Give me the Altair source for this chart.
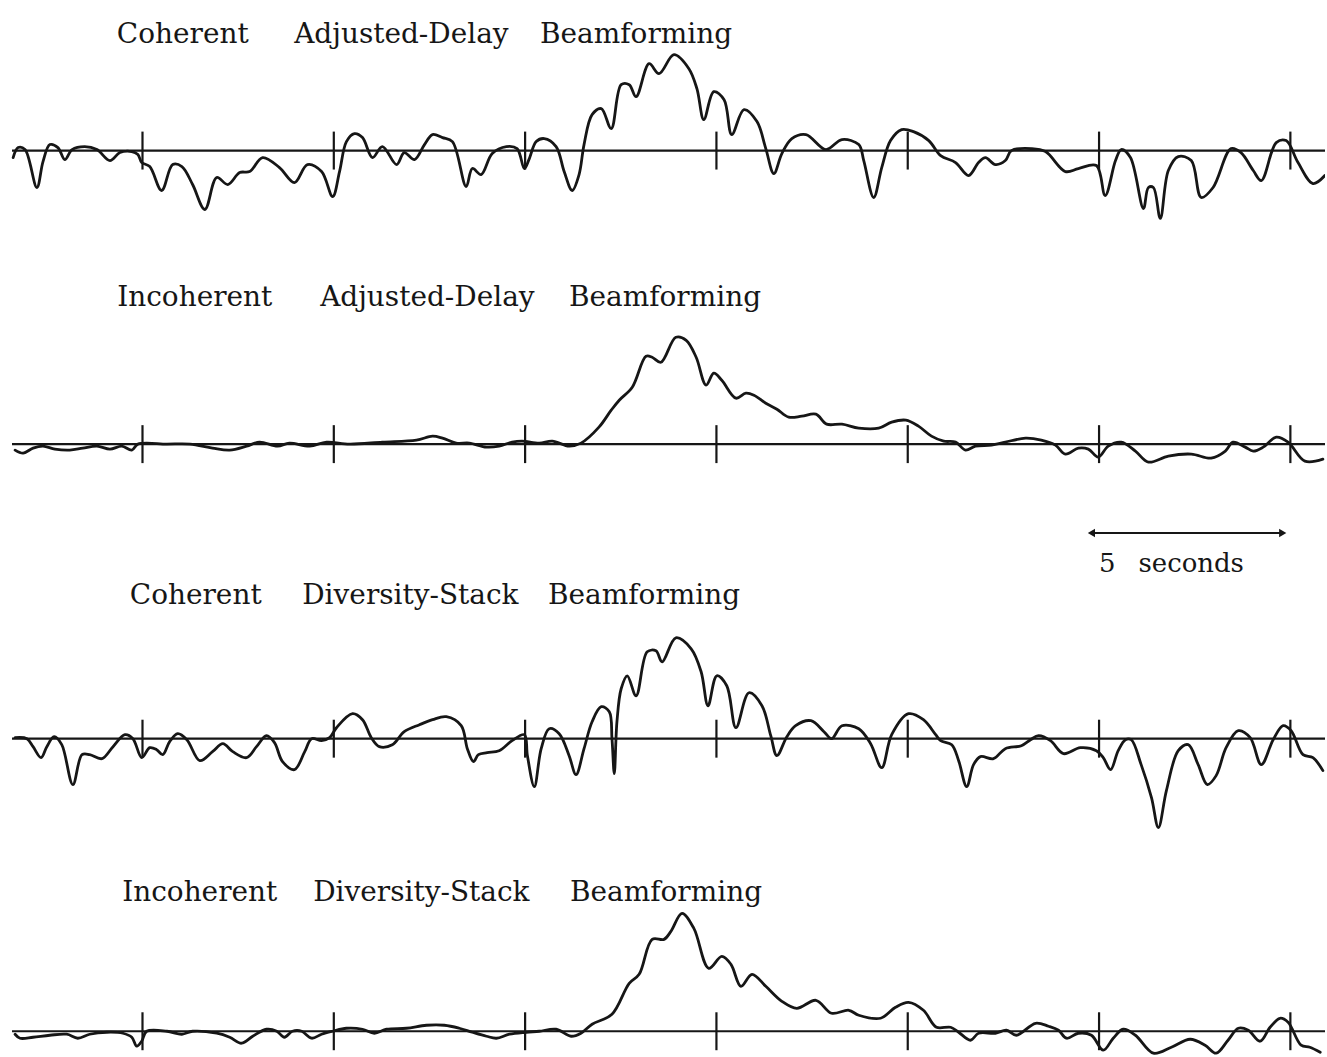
import altair as alt
import pandas as pd

INK = "#161616"
SERIF = "DejaVu Serif"

# Time axis in seconds, amplitude in relative units (positive up)
T_MIN, T_MAX = 1.276, 35.905
TRACE_START = 1.59
TIME_MARKS = [5, 10, 15, 20, 25, 30, 35]
TICK_HALF = 19

titles = [
    "Coherent Adjusted-Delay Beamforming",
    "Incoherent Adjusted-Delay Beamforming",
    "Coherent Diversity-Stack Beamforming",
    "Incoherent Diversity-Stack Beamforming",
]

# Coherent adjusted-delay beam
t1 = [1.62, 1.75, 1.93, 2.24, 2.40, 2.58, 2.79, 2.97, 3.16, 3.49,
      3.81, 4.15, 4.41, 4.72, 4.88, 4.98, 5.19, 5.50, 5.79, 6.03,
      6.31, 6.63, 6.94, 7.23, 7.54, 7.80, 8.14, 8.58, 8.97, 9.31,
      9.68, 9.97, 10.15, 10.33, 10.54, 10.75, 11.01, 11.27, 11.64, 11.84,
      12.11, 12.37, 12.58, 12.84, 13.10, 13.46, 13.62, 13.85, 14.14, 14.51,
      14.79, 14.98, 15.11, 15.29, 15.50, 15.81, 16.02, 16.23, 16.41, 16.54,
      16.75, 16.99, 17.25, 17.51, 17.72, 17.90, 18.24, 18.50, 18.89, 19.28,
      19.49, 19.67, 19.93, 20.20, 20.40, 20.72, 21.06, 21.29, 21.50, 21.71,
      21.97, 22.34, 22.86, 23.28, 23.72, 23.85, 24.11, 24.32, 24.55, 24.84,
      25.15, 25.55, 25.86, 26.25, 26.59, 26.85, 27.03, 27.29, 27.55, 27.71,
      28.23, 28.60, 29.12, 29.46, 29.93, 30.16, 30.43, 30.58, 30.82, 31.16,
      31.29, 31.42, 31.60, 31.81, 32.07, 32.41, 32.67, 32.98, 33.45, 33.71,
      34.03, 34.24, 34.63, 34.89, 35.20, 35.59, 35.90]
a1 = [-7, 3, 1, -37, -11, 6, 3, -9, 1, 4,
      1, -10, -2, -1, -4, -12, -16, -40, -14, -16,
      -34, -59, -27, -34, -22, -21, -7, -17, -32, -14,
      -21, -46, -21, 9, 17, 13, -7, 4, -14, -2,
      -9, 6, 16, 13, 9, -36, -18, -24, -3, 4,
      2, -18, -8, 9, 12, 4, -21, -40, -24, 6,
      36, 42, 22, 66, 66, 54, 87, 77, 96, 82,
      62, 31, 59, 51, 16, 41, 29, 2, -23, -3,
      12, 16, 1, 11, 6, -10, -47, -17, 10, 21,
      19, 10, -5, -12, -25, -12, -7, -14, -10, 0,
      2, -1, -21, -18, -15, -45, -10, 1, -7, -58,
      -37, -37, -68, -20, -6, -10, -47, -37, 2, -2,
      -20, -30, 8, 10, -12, -33, -25]

# Incoherent adjusted-delay beam
t2 = [1.67, 1.88, 2.14, 2.40, 2.71, 3.10, 3.44, 3.81, 4.15, 4.46,
      4.72, 4.88, 5.64, 6.24, 6.83, 7.28, 7.72, 8.06, 8.53, 8.84,
      9.37, 9.81, 10.41, 11.27, 12.16, 12.58, 12.84, 13.20, 13.54, 13.99,
      14.32, 14.66, 14.92, 15.37, 15.71, 16.15, 16.46, 16.93, 17.25, 17.46,
      17.80, 18.16, 18.32, 18.55, 18.94, 19.21, 19.47, 19.73, 19.93, 20.14,
      20.51, 20.77, 20.98, 21.29, 21.58, 21.89, 22.23, 22.60, 22.88, 23.28,
      23.72, 24.24, 24.58, 24.95, 25.28, 25.62, 25.94, 26.25, 26.51, 26.77,
      27.19, 27.55, 28.08, 28.49, 28.86, 29.12, 29.46, 29.72, 29.98, 30.24,
      30.58, 30.95, 31.29, 31.81, 32.41, 32.93, 33.30, 33.50, 33.82, 34.03,
      34.29, 34.63, 34.94, 35.38, 35.85]
a2 = [-6, -9, -4, -2, -5, -6, -4, -2, -5, -2,
      -6, 0, 0, 0, -4, -6, -2, 2, -2, 1,
      -2, 2, 0, 2, 4, 8, 6, 1, 1, -3,
      -2, 2, 3, 1, 3, -2, 1, 17, 34, 44,
      57, 88, 87, 82, 107, 104, 87, 59, 71, 64,
      46, 51, 49, 41, 35, 27, 28, 30, 20, 20,
      16, 16, 22, 24, 18, 8, 3, 2, -6, -2,
      -1, 2, 6, 4, -1, -10, -4, -5, -13, -2,
      2, -7, -18, -12, -10, -14, -7, 2, -3, -7,
      -3, 7, 2, -17, -15]

# Coherent diversity-stack beam
t3 = [1.67, 1.98, 2.14, 2.35, 2.50, 2.69, 2.89, 3.18, 3.42, 3.62,
      3.94, 4.23, 4.54, 4.75, 4.98, 5.19, 5.37, 5.53, 5.71, 5.92,
      6.16, 6.50, 6.83, 7.10, 7.36, 7.72, 7.98, 8.24, 8.45, 8.66,
      8.97, 9.24, 9.42, 9.68, 9.89, 10.07, 10.49, 10.75, 10.98, 11.19,
      11.53, 11.84, 12.24, 12.58, 12.94, 13.33, 13.49, 13.65, 13.78, 14.01,
      14.32, 14.66, 14.98, 15.06, 15.24, 15.42, 15.63, 15.89, 16.15, 16.33,
      16.54, 16.75, 16.99, 17.20, 17.27, 17.33, 17.40, 17.51, 17.67, 17.90,
      18.19, 18.42, 18.58, 18.94, 19.34, 19.60, 19.78, 20.01, 20.27, 20.51,
      20.85, 21.19, 21.42, 21.58, 21.84, 22.07, 22.47, 22.81, 23.01, 23.28,
      23.72, 24.03, 24.32, 24.58, 25.02, 25.41, 25.73, 25.86, 26.15, 26.33,
      26.54, 26.72, 26.90, 27.24, 27.55, 27.97, 28.21, 28.42, 28.73, 29.07,
      29.51, 29.93, 30.11, 30.30, 30.50, 30.69, 30.84, 31.10, 31.37, 31.55,
      31.76, 32.07, 32.33, 32.59, 32.83, 33.06, 33.32, 33.64, 33.95, 34.24,
      34.55, 34.81, 35.02, 35.33, 35.59, 35.85]
a3 = [1, 0, -8, -19, -8, 2, -6, -46, -16, -16,
      -20, -8, 4, 0, -19, -9, -11, -16, -3, 5,
      -1, -22, -13, -5, -13, -19, -8, 3, -4, -23,
      -31, -13, 0, -2, 1, 11, 25, 19, 1, -8,
      -6, 7, 14, 19, 22, 13, -10, -23, -16, -14,
      -12, -2, 4, -17, -48, -10, 10, 5, -17, -36,
      -10, 17, 32, 27, 0, -35, 17, 50, 63, 43,
      87, 88, 77, 101, 90, 67, 33, 63, 53, 11,
      46, 33, 3, -17, 2, 13, 18, 7, 0, 13,
      10, -5, -29, 4, 25, 19, 4, -2, -6, -22,
      -48, -26, -18, -20, -10, -7, -1, 3, -2, -15,
      -9, -12, -19, -31, -12, -1, -1, -26, -59, -89,
      -52, -12, -6, -26, -46, -37, -9, 8, 1, -26,
      -1, 13, 8, -16, -19, -32]

# Incoherent diversity-stack beam
t4 = [1.67, 1.80, 2.14, 2.58, 3.02, 3.31, 3.62, 4.07, 4.49, 4.72,
      4.85, 4.98, 5.11, 5.64, 6.03, 6.31, 6.94, 7.28, 7.59, 7.88,
      8.24, 8.51, 8.71, 8.92, 9.16, 9.42, 9.68, 9.97, 10.33, 10.75,
      11.06, 11.38, 11.90, 12.42, 12.89, 13.28, 13.62, 13.99, 14.25, 14.59,
      15.03, 15.37, 15.81, 16.20, 16.46, 16.75, 17.27, 17.72, 17.98, 18.32,
      18.63, 18.81, 19.10, 19.41, 19.80, 20.14, 20.38, 20.64, 20.93, 21.29,
      21.71, 22.10, 22.60, 23.01, 23.46, 23.72, 24.29, 24.68, 25.02, 25.41,
      25.75, 26.12, 26.33, 26.64, 26.85, 27.29, 27.58, 27.84, 28.34, 28.68,
      28.94, 29.15, 29.46, 29.80, 30.11, 30.37, 30.63, 30.95, 31.42, 31.89,
      32.38, 32.77, 33.06, 33.37, 33.64, 33.90, 34.21, 34.47, 34.73, 34.94,
      35.28, 35.51, 35.78]
a4 = [-3, -7, -6, -4, -3, -7, -3, -1, -2, -6,
      -15, -10, 0, 0, -3, 0, -2, -6, -12, -5,
      2, 0, -6, 0, 0, -7, -3, 0, 3, 2,
      -2, 2, 3, 6, 6, 3, -1, -5, -7, -3,
      -1, 0, 2, -5, -2, 7, 17, 48, 57, 92,
      92, 100, 118, 103, 63, 75, 67, 45, 57, 45,
      30, 23, 31, 18, 21, 16, 13, 24, 29, 21,
      4, 4, -1, -9, -2, -2, 1, -4, 8, 5,
      1, -7, -2, -4, -19, -7, 2, -4, -22, -16,
      -8, -14, -22, -9, 3, 1, -10, 4, 13, 9,
      -14, -16, -21]

# Time scale bar
bar_start = 29.8
bar_length = 5
bar_label = "5 seconds"

# Word centres (pixels) for each title, plus the text baseline in the panel;
# the lettering is widely tracked, so words are set individually
TITLE_LAYOUT = [
    ([183, 402, 637], 42),
    ([195, 428, 666], 44),
    ([196, 411, 645], 27),
    ([200, 422, 667], 32),
]
TITLE_SIZE = 28
BAR_WORD_X = [1109, 1193]


def xenc(field):
    return alt.X(field, type="quantitative",
                 scale=alt.Scale(domain=[T_MIN, T_MAX], nice=False, zero=False),
                 axis=None)


def word_marks(text, xs, y, size):
    out = []
    for word, x in zip(text.split(" "), xs):
        out.append(
            alt.Chart(pd.DataFrame({"label": [word]})).mark_text(
                align="center", baseline="alphabetic", font=SERIF,
                fontSize=size, color=INK,
            ).encode(x=alt.value(x), y=alt.value(y), text="label:N")
        )
    return out


def panel(title, layout, t, a, height, y_lo, y_hi, extras=()):
    yscale = alt.Scale(domain=[y_lo, y_hi], nice=False, zero=False)
    trace_df = pd.DataFrame({"t": t, "amp": a})
    base_df = pd.DataFrame({"t": [TRACE_START], "t_end": [T_MAX], "amp": [0]})
    tick_df = pd.DataFrame({"t": TIME_MARKS})
    tick_df["lo"] = -TICK_HALF
    tick_df["hi"] = TICK_HALF

    baseline = alt.Chart(base_df).mark_rule(color=INK, strokeWidth=2.2).encode(
        x=xenc("t"),
        x2="t_end:Q",
        y=alt.Y("amp:Q", scale=yscale, axis=None),
    )
    ticks = alt.Chart(tick_df).mark_rule(color=INK, strokeWidth=2.2).encode(
        x=xenc("t"),
        y=alt.Y("lo:Q", scale=yscale, axis=None),
        y2="hi:Q",
    )
    trace = alt.Chart(trace_df).mark_line(
        color=INK, strokeWidth=2.8, interpolate="catmull-rom", clip=True,
        strokeJoin="round", strokeCap="round",
    ).encode(
        x=xenc("t"),
        y=alt.Y("amp:Q", scale=yscale, axis=None),
    )
    xs, y = layout
    layers = [baseline, ticks, trace] + word_marks(title, xs, y, TITLE_SIZE) + list(extras)
    return alt.layer(*layers).properties(width=1327, height=height)


bar_df = pd.DataFrame({"t": [bar_start], "t_end": [bar_start + bar_length]})
bar_line = alt.Chart(bar_df).mark_rule(color=INK, strokeWidth=2).encode(
    x=xenc("t"), x2="t_end:Q", y=alt.value(271)
)
bar_left = alt.Chart(bar_df).mark_point(
    shape="triangle-left", filled=True, size=70, color=INK, opacity=1
).encode(x=xenc("t"), y=alt.value(271))
bar_right = alt.Chart(bar_df).mark_point(
    shape="triangle-right", filled=True, size=70, color=INK, opacity=1
).encode(x=xenc("t_end"), y=alt.value(271))
bar_words = word_marks(bar_label, BAR_WORD_X, 310, 26)

p1 = panel(titles[0], TITLE_LAYOUT[0], t1, a1, 262, -112, 150)
p2 = panel(titles[1], TITLE_LAYOUT[1], t2, a2, 313, -131, 182,
           extras=[bar_line, bar_left, bar_right] + bar_words)
p3 = panel(titles[2], TITLE_LAYOUT[2], t3, a3, 293, -131, 162)
p4 = panel(titles[3], TITLE_LAYOUT[3], t4, a4, 189, -27, 162)

chart = (
    alt.vconcat(p1, p2, p3, p4, spacing=0)
    .configure_view(stroke=None)
    .properties(padding=0, background="white")
)

chart.save("out.html", embed_options={"renderer": "svg", "actions": False})
